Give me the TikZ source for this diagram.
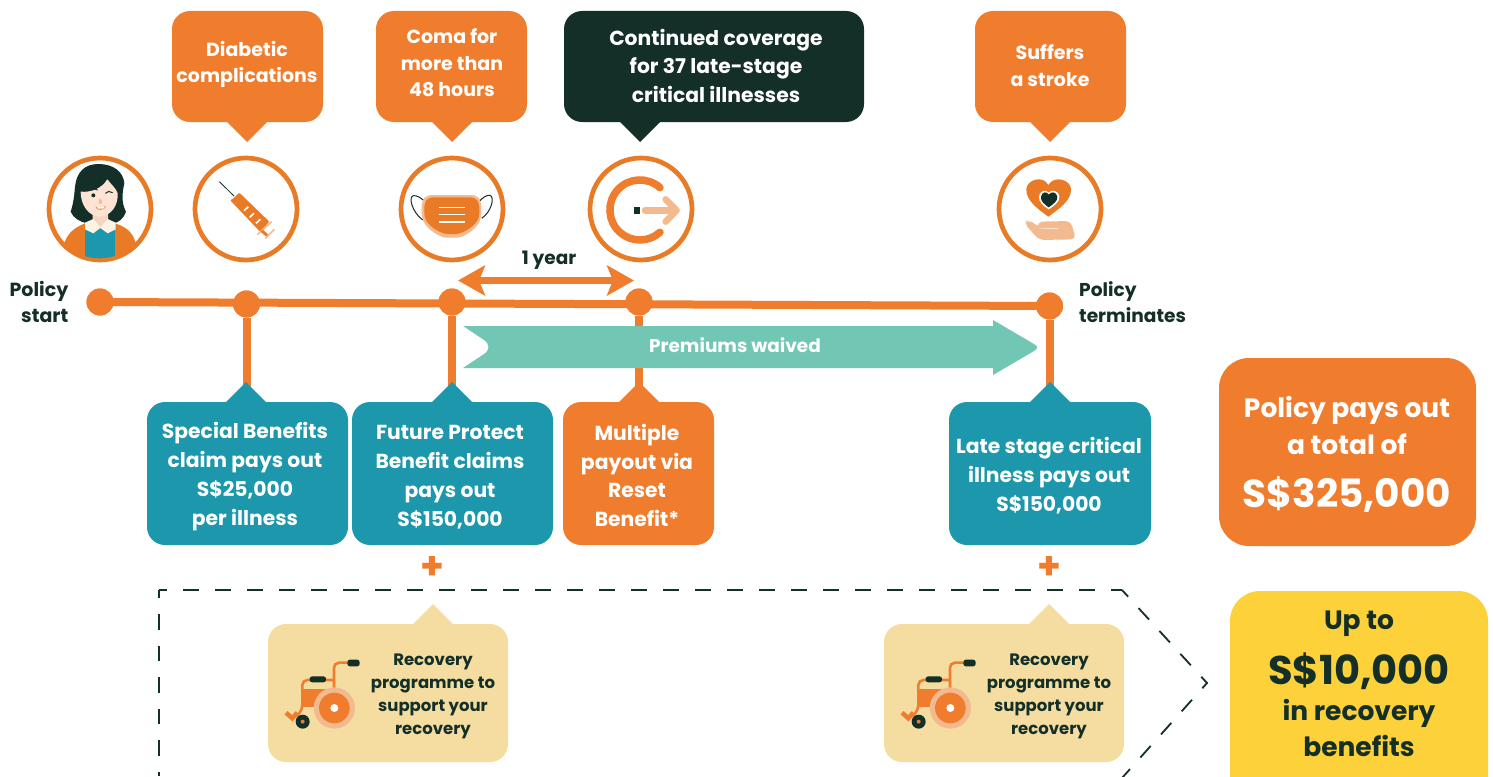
\documentclass[tikz,border=0pt]{standalone}
\usepackage{fontspec}
\setmainfont{Poppins}
\usetikzlibrary{arrows.meta}
\definecolor{org}{HTML}{F07D2E}
\definecolor{rng}{HTML}{E97B26}
\definecolor{teal1}{HTML}{1C97AB}
\definecolor{dk}{HTML}{132F27}
\definecolor{tan1}{HTML}{F5DDA2}
\definecolor{yel}{HTML}{FDD13A}
\definecolor{pch}{HTML}{F3B98F}
\definecolor{grn}{HTML}{71C7B3}
\definecolor{skin}{HTML}{FDE3D3}
\definecolor{neck}{HTML}{F8D5C0}
\definecolor{crm}{HTML}{FBF3E3}
\newcommand{\fs}[2]{\fontsize{#1}{#2}\selectfont\bfseries}
\tikzset{
 x=1pt,y=-1pt,
 box/.style={rounded corners=18pt,inner sep=0pt,outer sep=0pt},
 bigbox/.style={rounded corners=30pt,inner sep=0pt,outer sep=0pt},
 lab/.style={align=center,inner sep=0pt,text=white},
 dlab/.style={align=center,inner sep=0pt,text=dk},
 ring/.style={circle,draw=rng,line width=4.7pt,minimum size=102pt,inner sep=0pt,fill=white},
 dot/.style={circle,fill=org,minimum size=27pt,inner sep=0pt},
 stem/.style={draw=org,line width=8pt},
 icon/.style={x=0.33333pt,y=-0.33333pt},
}
\newcommand{\ptrdown}[3]{\fill[#1] (#2-20,#3) -- (#2,#3+20) -- (#2+20,#3) -- cycle;}
\newcommand{\ptrup}[3]{\fill[#1] (#2-20,#3) -- (#2,#3-20) -- (#2+20,#3) -- cycle;}
\newcommand{\wheelchair}{%
 \draw[org,line width=2.6pt,rounded corners=5pt] (270,362) -- (222,362) -- (222,218) -- (262,218);
 \draw[org,line width=2.6pt,rounded corners=5pt] (222,270) -- (127,270) -- (127,360) -- (108,380);
 \fill[org] (127,298) rectangle (222,352);
 \draw[org,line width=4.5pt] (78,368) -- (97,385) -- (112,368);
 \fill[dk,rounded corners=2.5pt] (262,209) rectangle (299,229);
 \fill[dk,rounded corners=2.5pt] (149,259) rectangle (198,277);
 \fill[pch] (223,354) circle [radius=20.6pt];
 \fill[org] (223,354) circle [radius=15.3pt];
 \fill[white] (223,354) circle [radius=4pt];
 \fill[dk] (128,395) circle [radius=7pt];
 \fill[org] (128,395) circle [radius=2pt];
}
\begin{document}
\begin{tikzpicture}
\path[use as bounding box,clip] (0,0) rectangle (1493,776);
\fill[white] (0,0) rectangle (1493,776);
% dashed frame
\coordinate (fa) at (159,776);\coordinate (fb) at (159,590);\coordinate (fc) at (1122,590);\coordinate (fd) at (1207,683);\coordinate (fe) at (1122,778);
\draw[dk,line width=1.8pt,dash pattern=on 16pt off 16pt,dash phase=8pt] (fb) -- (fc);
\draw[dk,line width=1.8pt,dash pattern=on 15.5pt off 16pt,dash phase=7.5pt] (fb) -- (fa);
\draw[dk,line width=1.8pt,dash pattern=on 15.5pt off 15.5pt,dash phase=6.5pt] (fc) -- (fd) -- (fe);
% timeline
\node[dot] (d0) at (100,302) {};
\node[dot] (d1) at (246.5,304) {};
\node[dot] (d2) at (452,302) {};
\node[dot] (d3) at (639,302) {};
\node[dot] (d4) at (1049.5,306) {};
\draw[stem] (d0.center) -- (d4.center);
% callouts
\node[box,fill=org,minimum width=151pt,minimum height=111pt] (c1) at (247.5,66.5) {};
\node[box,fill=org,minimum width=151pt,minimum height=111pt] (c2) at (451.5,66.5) {};
\node[box,fill=dk,minimum width=300pt,minimum height=111pt] (c3) at (714,66.5) {};
\node[box,fill=org,minimum width=151pt,minimum height=111pt] (c4) at (1050.5,66.5) {};
\ptrdown{org}{247}{122}\ptrdown{org}{452}{122}\ptrdown{dk}{640}{122}\ptrdown{org}{1050}{122}
\node[lab,font=\fs{19}{26}] (t1) at (247,64.5) {Diabetic\\complications};
\node[lab,font=\fs{19}{26.5}] (t2) at (452,63) {Coma for\\more than\\48 hours};
\node[lab,font=\fs{20.3}{28.5}] (t3) at (716,65.5) {Continued coverage\\for 37 late-stage\\critical illnesses};
\node[lab,font=\fs{19}{27}] (t4) at (1050,65.5) {Suffers\\a stroke};
% lower boxes
\node[box,fill=teal1,minimum width=201pt,minimum height=143pt] (b1) at (247.5,473.5) {};
\node[box,fill=teal1,minimum width=201pt,minimum height=143pt] (b2) at (452.5,473.5) {};
\node[box,fill=org,minimum width=151pt,minimum height=143pt] (b3) at (638.5,473.5) {};
\node[box,fill=teal1,minimum width=202pt,minimum height=143pt] (b4) at (1050,473.5) {};
\draw[stem] (d1) -- (d1|-b1.north);
\draw[stem] (d2) -- (d2|-b2.north);
\draw[stem] (d3) -- (d3|-b3.north);
\draw[stem] (d4) -- (d4|-b4.north);
\foreach \n in {d0,d1,d2,d3,d4} \fill[org] (\n) circle [radius=13.5pt];
\ptrup{teal1}{246}{402}\ptrup{teal1}{452}{402}\ptrup{org}{639}{402}\ptrup{teal1}{1050}{402}
\node[lab,font=\fs{20.3}{29}] (t5) at (245,477) {Special Benefits\\claim pays out\\S\$25,000\\per illness};
\node[lab,font=\fs{20.3}{29}] (t6) at (450,477) {Future Protect\\Benefit claims\\pays out\\S\$150,000};
\node[lab,font=\fs{20.3}{28.5}] (t7) at (637,475.5) {Multiple\\payout via\\Reset\\Benefit*};
\node[lab,font=\fs{20.3}{29}] (t8) at (1049,476) {Late stage critical\\illness pays out\\S\$150,000};
% labels on timeline
\node[dlab,align=right,anchor=east,font=\fs{19}{26}] (ps) at (68.5,302) {Policy\\start};
\node[dlab,align=left,anchor=west,font=\fs{18.6}{26}] (pt) at (1079,302) {Policy\\terminates};
\coordinate (ya) at (458,280.5);\coordinate (yb) at (634,280.5);
\draw[org,line width=7.5pt,{Stealth[length=27pt,width=30pt,inset=6pt]}-{Stealth[length=27pt,width=30pt,inset=6pt]}] (ya) -- (yb);
\node[dlab,font=\fs{18.5}{24}] (yr) at (549,260) {1 year};
% premiums waived
\fill[grn] (463,326) -- (993,326) -- (993,320) -- (1034,344) .. controls (1038,346) and (1038,349) .. (1034,351) -- (993,375) -- (993,368) -- (463,368) -- (484,354) .. controls (490,350) and (490,344) .. (484,340) -- cycle;
\node[lab,font=\fs{18.5}{24}] (pw) at (735,345) {Premiums waived};
% summary boxes
\node[bigbox,fill=org,minimum width=257pt,minimum height=188pt] (s1) at (1347.5,452) {};
\node[lab,font=\fs{26.5}{37}] (s1t) at (1347,425) {Policy pays out\\a total of};
\node[lab,font=\fs{39}{48}] (s1u) at (1347,495) {S\$325,000};
\node[bigbox,fill=yel,minimum width=258pt,minimum height=220pt] (s2) at (1359,701) {};
\node[dlab,font=\fs{26.5}{36}] (s2a) at (1359,624) {Up to};
\node[dlab,font=\fs{40}{48}] (s2b) at (1359,671) {S\$10,000};
\node[dlab,font=\fs{26.5}{36}] (s2c) at (1359,728) {in recovery\\benefits};
% plus
\node[inner sep=0pt,text=org,font=\fs{38}{38}] (p1) at (432,568) {+};
\node[inner sep=0pt,text=org,font=\fs{38}{38}] (p2) at (1049,568) {+};
% recovery
\node[box,fill=tan1,minimum width=240pt,minimum height=138pt] (r1) at (388,693) {};
\node[box,fill=tan1,minimum width=240pt,minimum height=138pt] (r2) at (1004,693) {};
\ptrup{tan1}{433}{624}\ptrup{tan1}{1049}{624}
\node[dlab,font=\fs{16.5}{23}] (r1t) at (433,696) {Recovery\\programme to\\support your\\recovery};
\node[dlab,font=\fs{16.5}{23}] (r2t) at (1049,696) {Recovery\\programme to\\support your\\recovery};
\begin{scope}[shift={(260,590)},icon]\wheelchair\end{scope}
\begin{scope}[shift={(876,590)},icon]\wheelchair\end{scope}
% icon rings
\node[ring] (i0) at (100,209) {};
\node[ring] (i1) at (246,209) {};
\node[ring] (i2) at (452,209) {};
\node[ring] (i3) at (641,209) {};
\node[ring] (i4) at (1050,209) {};
% person
\begin{scope}[shift={(30,140)},icon]
 \begin{scope}
 \clip (209,208) circle [radius=49pt];
 \fill[rng] (100,320) .. controls (110,280) and (130,265) .. (165,250) -- (255,250) .. controls (290,262) and (310,275) .. (320,320) -- (320,370) -- (100,370) -- cycle;
 \fill[teal1] (165,265) -- (255,265) -- (255,370) -- (165,370) -- cycle;
 \end{scope}
 \fill[dk] (205,72) .. controls (165,72) and (140,95) .. (135,140) .. controls (132,175) and (130,190) .. (122,215) .. controls (130,235) and (150,245) .. (170,250) -- (250,250) .. controls (265,248) and (282,235) .. (288,215) .. controls (275,190) and (275,165) .. (283,130) .. controls (280,95) and (250,72) .. (205,72) -- cycle;
 \fill[neck] (188,215) -- (234,215) -- (234,245) -- (210,262) -- (188,240) -- cycle;
 \fill[crm] (165,248) -- (190,237) -- (211,262) -- (233,237) -- (257,248) -- (257,268) -- (233,280) -- (211,264) -- (190,280) -- (165,268) -- cycle;
 \fill[skin] (152,155) .. controls (185,158) and (215,145) .. (232,118) .. controls (245,135) and (258,145) .. (263,160) .. controls (265,195) and (245,228) .. (208,230) .. controls (175,228) and (152,195) .. (152,155) -- cycle;
 \fill[dk] (190,166) circle [radius=2pt];
 \draw[dk,line width=0.9pt] (175,150) .. controls (185,144) and (195,145) .. (203,150);
 \draw[dk,line width=1pt] (226,160) .. controls (232,153) and (240,153) .. (248,158);
 \fill[org!40!skin] (208,178) .. controls (212,172) and (220,185) .. (214,192) -- (206,190) -- cycle;
 \fill[org] (196,200) .. controls (205,204) and (218,204) .. (228,198) .. controls (225,212) and (200,214) .. (196,200) -- cycle;
 \fill[white] (200,202) -- (224,201) -- (220,206) -- (204,206) -- cycle;
\end{scope}
% syringe
\begin{scope}[shift={(30,140)},icon]
 \draw[dk,line width=0.8pt] (568,125) -- (612,168);
 \fill[rng,rounded corners=1pt] (600,180) -- (607,178) -- (628,158) -- (718,245) -- (690,275) -- cycle;
 \draw[white,line width=1.6pt] (642,212) -- (655,200);
 \draw[white,line width=1.6pt] (659,232) -- (672,220);
 \draw[white,line width=1.6pt] (678,250) -- (691,238);
 \draw[pch,line width=1.6pt] (682,284) -- (725,245);
 \draw[rng,line width=3pt] (695,272) -- (712,287);
 \draw[pch,line width=1.6pt] (706,295) -- (733,268);
\end{scope}
% mask
\begin{scope}[shift={(380,140)},icon]
 \draw[dk,line width=1pt] (128,240) .. controls (95,215) and (85,170) .. (100,167) .. controls (110,165) and (125,175) .. (135,185);
 \draw[dk,line width=1pt] (305,235) .. controls (335,215) and (345,170) .. (330,166) .. controls (320,164) and (305,175) .. (297,185);
 \fill[pch,rounded corners=5pt] (140,165) -- (290,165) -- (304,185) -- (304,235) .. controls (285,270) and (250,293) .. (215,293) .. controls (180,293) and (145,270) .. (125,235) -- (125,185) -- cycle;
 \fill[rng,rounded corners=4pt] (145,172) -- (285,172) -- (298,190) -- (298,232) .. controls (280,262) and (245,282) .. (215,282) .. controls (185,282) and (150,262) .. (133,232) -- (133,190) -- cycle;
 \foreach \yy in {203,224,246} \draw[white,line width=1.4pt] (178,\yy) -- (256,\yy);
\end{scope}
% C arrow
\begin{scope}[shift={(380,140)},icon]
 \draw[org,line width=7.5pt,line cap=round] (840,143) arc[start angle=48,end angle=312,radius=30pt];
 \fill[dk] (763,201) rectangle (779,221);
 \draw[pch,line width=6.5pt,line cap=round,line join=round] (795,211) -- (885,211);
 \draw[pch,line width=6.5pt,line cap=round,line join=round] (857,178) -- (890,211) -- (857,245);
\end{scope}
% heart in hand
\begin{scope}[shift={(980,140)},icon]
 \fill[rng] (205,230) .. controls (170,205) and (138,180) .. (139,148) .. controls (140,118) and (190,105) .. (205,135) .. controls (222,105) and (272,118) .. (273,148) .. controls (274,180) and (240,205) .. (205,230) -- cycle;
 \fill[white] (206,208) .. controls (190,198) and (175,185) .. (177,170) .. controls (180,150) and (198,148) .. (206,158) .. controls (215,148) and (235,150) .. (238,170) .. controls (240,185) and (222,198) .. (206,208) -- cycle;
 \fill[dk] (206,202) .. controls (193,193) and (181,183) .. (183,170) .. controls (186,155) and (200,153) .. (206,164) .. controls (213,153) and (229,155) .. (232,170) .. controls (234,183) and (219,193) .. (206,202) -- cycle;
 \fill[pch,rounded corners=5pt] (132,250) -- (145,238) -- (178,262) -- (172,245) -- (272,243) -- (288,298) -- (178,300) -- cycle;
 \draw[white,line width=0.5pt] (178,264) -- (235,266);
\end{scope}
\end{tikzpicture}
\end{document}
